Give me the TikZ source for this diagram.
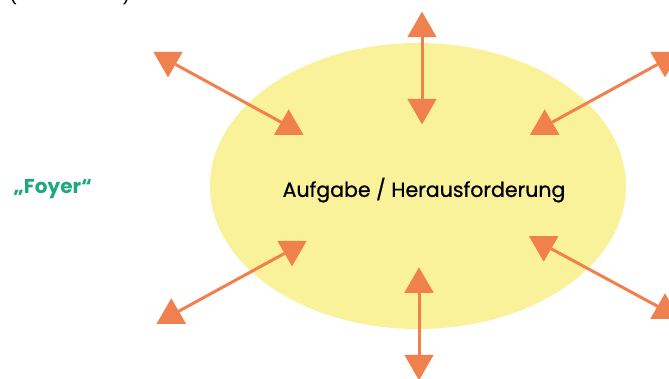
\documentclass[tikz,border=0pt]{standalone}
\usepackage{fontspec}
\setmainfont{Poppins}
\newfontfamily\mittel{Poppins}[FakeBold=0.8]
\usetikzlibrary{shapes.geometric}
\definecolor{pfeil}{HTML}{F0804E}
\definecolor{feld}{HTML}{FAF29B}
\definecolor{gruen}{HTML}{1FA77F}
\tikzset{
  spitzeoben/.style={regular polygon, regular polygon sides=3, fill=pfeil, minimum size=34pt, inner sep=0pt, outer sep=0pt},
  spitzeunten/.style={spitzeoben, shape border rotate=180},
  pfeillinie/.style={draw=pfeil, line width=3pt}
}
\begin{document}
\begin{tikzpicture}[x=1pt, y=-1pt]
    \useasboundingbox (0,0) rectangle (669,378);
    \fill[feld] (418,186) ellipse [x radius=208pt, y radius=143pt];
    \node[font=\fontsize{20.5}{22}\selectfont\mittel] (aufgabe) at (424,190) {Aufgabe / Herausforderung};
    \node[font=\fontsize{20}{22}\selectfont\bfseries, text=gruen, anchor=west] (foyer) at (10,189) {„Foyer“};
    \node[font=\fontsize{18}{20}\selectfont, anchor=base west, inner sep=0pt] (klammer) at (9,1) {(\hspace{105pt})};
    % oben links
    \node[spitzeunten] (ol1) at (168,60.3) {};
    \node[spitzeoben] (ol2) at (288.7,126.3) {};
    \draw[pfeillinie] (ol1) -- (ol2);
    % oben
    \node[spitzeoben] (o1) at (422,28.7) {};
    \node[spitzeunten] (o2) at (422,107.3) {};
    \draw[pfeillinie] (o1) -- (o2);
    % oben rechts
    \node[spitzeunten] (or1) at (665,60.3) {};
    \node[spitzeoben] (or2) at (544.7,126.3) {};
    \draw[pfeillinie] (or1) -- (or2);
    % unten links
    \node[spitzeunten] (ul1) at (292,249.3) {};
    \node[spitzeoben] (ul2) at (171.3,315.3) {};
    \draw[pfeillinie] (ul1) -- (ul2);
    % unten
    \node[spitzeoben] (u1) at (419,284.3) {};
    \node[spitzeunten] (u2) at (419,363.3) {};
    \draw[pfeillinie] (u1) -- (u2);
    % unten rechts
    \node[spitzeunten] (ur1) at (543.7,244.7) {};
    \node[spitzeoben] (ur2) at (665,310.3) {};
    \draw[pfeillinie] (ur1) -- (ur2);
\end{tikzpicture}
\end{document}
